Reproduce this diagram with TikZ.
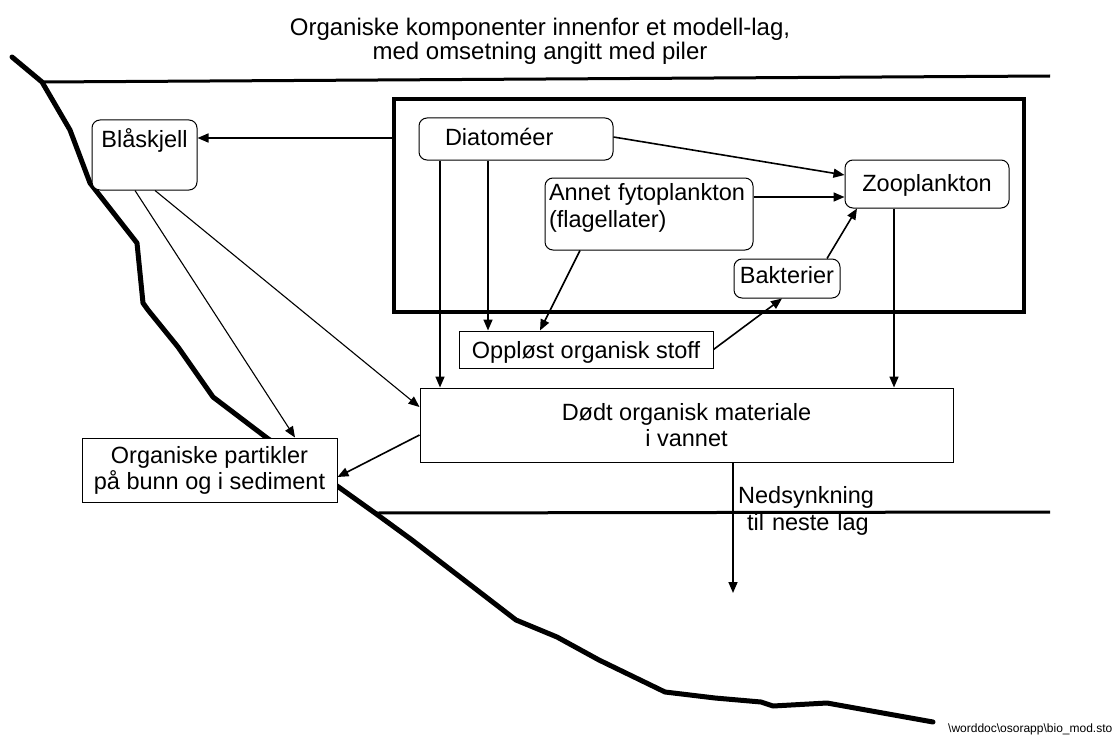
\documentclass[tikz,border=0pt]{standalone}
\usepackage{fontspec}
\setmainfont{Liberation Sans}
\usetikzlibrary{arrows.meta}
\begin{document}
\begin{tikzpicture}[x=1pt,y=-1pt,
  every node/.style={font=\fontsize{23.5}{26}\selectfont, inner sep=0pt},
  rbox/.style={draw, line width=1pt, rounded corners=8pt, fill=white},
  sbox/.style={draw, line width=1pt, fill=white},
  arr/.style={line width=1.6pt, -{Triangle[length=11pt,width=9pt]}},
  thinarr/.style={line width=1.1pt, -{Triangle[length=11pt,width=9pt]}},
  coast/.style={line width=5pt, line cap=round, line join=round},
  layerline/.style={line width=3pt}
]
\useasboundingbox (0,0) rectangle (1118,741);

% coastline and layer boundaries
\coordinate (ctop) at (42,82);
\coordinate (clow) at (375,513);
\draw[coast] (12,57) -- (ctop) -- (70,130) -- (90,183) -- (137,243) -- (143,303)
  -- (148,310) -- (178,347) -- (213,397) -- (267,438) -- (340,488) -- (clow)
  -- (412,540) -- (516,620) -- (557,637) -- (599,660) -- (665,692) -- (715,698)
  -- (761,702) -- (773,706) -- (827,703) -- (933,722);
\coordinate (topend) at (1050,76);
\coordinate (lowend) at (1050,512);
\draw[layerline] (ctop) -- (topend);
\draw[layerline] (clow) -- (lowend);

% title
\node[font=\fontsize{24}{24}\selectfont, align=center] (title) at (540,41)
  {Organiske komponenter innenfor et modell-lag,\\med omsetning angitt med piler};

% model layer box
\node[draw, line width=4pt, minimum width=630pt, minimum height=213pt, anchor=north west] (layer) at (392,97) {};

% nodes
\node[rbox, anchor=base, minimum width=105pt, text height=27pt, text depth=43pt] (bla) at (144.5,147) {Blåskjell};
\node[rbox, anchor=base, text width=142pt, align=left, inner xsep=26pt, text height=27pt, text depth=15pt] (dia) at (516,145) {Diatoméer};
\node[rbox, anchor=base, text width=200pt, inner xsep=4pt, align=left, font=\fontsize{23.5}{27}\selectfont, text height=22pt, text depth=50pt] (ann) at (649,200) {Annet fytoplankton\\(flagellater)};
\node[rbox, anchor=base, minimum width=164pt, text height=31pt, text depth=17pt] (zoo) at (927,191) {Zooplankton};
\node[rbox, anchor=base, minimum width=106pt, text height=24pt, text depth=15pt] (bak) at (787,283) {Bakterier};
\node[sbox, anchor=base, minimum width=254pt, text height=27pt, text depth=10pt] (opp) at (586,358) {Oppløst organisk stoff};
\node[sbox, minimum width=533pt, minimum height=74pt, align=center] (dod) at (686.5,425) {Dødt organisk materiale\\i vannet};
\node[sbox, minimum width=255pt, minimum height=64pt, align=center] (org) at (209.5,470) {Organiske partikler\\på bunn og i sediment};

\node[text width=150pt, align=left, anchor=base west, font=\fontsize{23.5}{27}\selectfont] (sinklabel) at (738,503) {Nedsynkning\\\hspace*{9pt}til neste lag};
\node[font=\fontsize{12}{12}\selectfont, anchor=base west] (path) at (948,732) {\textbackslash worddoc\textbackslash osorapp\textbackslash bio\_mod.sto};

% connectors
\draw[arr] (layer.west |- 0,138) -- (bla.east |- 0,138);
\draw[arr] (dia.east |- 0,137) -- (zoo.west |- 0,175);
\draw[arr] (ann.east |- 0,197) -- (zoo.west |- 0,197);
\draw[arr] (bak.north -| 827,0) -- (zoo.south -| 857,0);
\draw[arr] (opp.east) -- (bak.south -| 782,0);
\draw[arr] (dia.south -| 440,0) -- (dod.north -| 440,0);
\draw[arr] (dia.south -| 488,0) -- (opp.north -| 488,0);
\draw[arr] (ann.south -| 580,0) -- (opp.north -| 540,0);
\draw[arr] (zoo.south -| 894,0) -- (dod.north -| 894,0);
\draw[thinarr] (bla.south -| 135,0) -- (org.north -| 295,0);
\draw[thinarr] (bla.south -| 155,0) -- (dod.west |- 0,407);
\draw[arr] (dod.west |- 0,435) -- (org.east |- 0,477);
\coordinate (sinkend) at (733,593);
\draw[arr] (dod.south -| sinkend) -- (sinkend);
\end{tikzpicture}
\end{document}
